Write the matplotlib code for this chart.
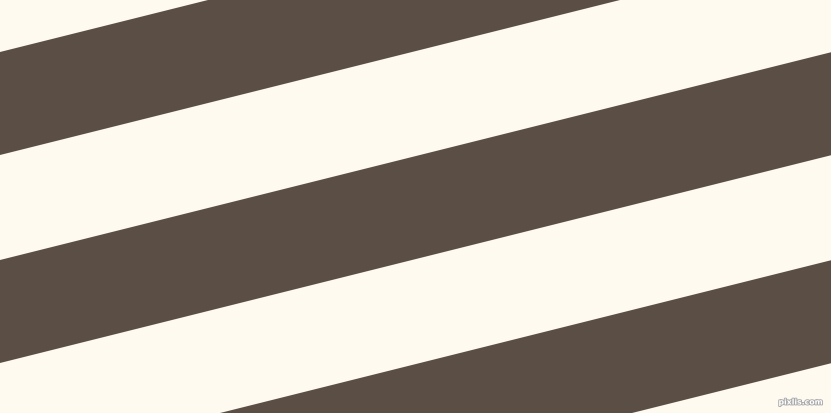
import matplotlib
matplotlib.use("Agg")
import matplotlib.pyplot as plt
import matplotlib.patheffects as pe
import numpy as np

# stripe data: y-intercepts (pixels at x=0) of the top edge of each dark band
band_tops = [-155, 53, 261, 469]
band_height = 103
band_slope = -0.25  # change in y per unit x (y grows downward)

W, H = 831, 414
dark = "#5B4E45"
light = "#FEFAF0"

fig = plt.figure(figsize=(W / 100, H / 100), dpi=100)
ax = fig.add_axes([0, 0, 1, 1])
ax.set_facecolor(light)
fig.patch.set_facecolor(light)

x = np.array([0, W])
for t in band_tops:
    top = t + band_slope * x
    bot = t + band_height + band_slope * x
    ax.fill_between(x, top, bot, color=dark, linewidth=0, antialiased=True)

ax.set_xlim(0, W)
ax.set_ylim(H, 0)
ax.axis("off")

ax.text(823, 403, "pixlis.com", fontsize=5.6, color="#FFFFFF", ha="right", va="center",
        fontweight="bold",
        path_effects=[pe.withStroke(linewidth=1.3, foreground="#A8A8A8")])

fig.savefig("out.png", dpi=100, facecolor=light)
